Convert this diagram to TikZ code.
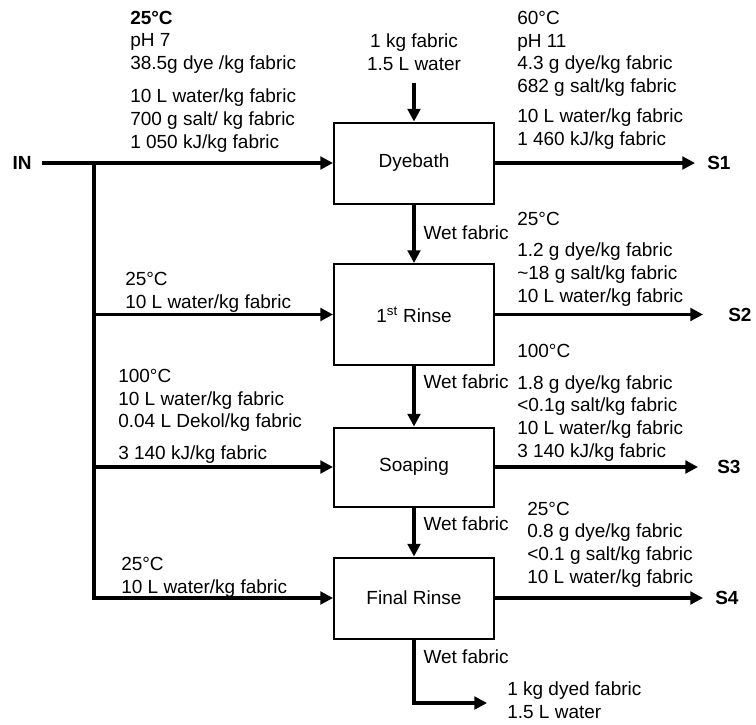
\documentclass[tikz,border=0pt]{standalone}
\usepackage{fontspec}
\setmainfont{Liberation Sans}
\usetikzlibrary{positioning, arrows.meta}

\begin{document}
\begin{tikzpicture}[
  x=0.75pt, y=-0.75pt,
  font=\fontsize{14.25}{16.9}\selectfont,
  unit/.style={draw, line width=1.5pt, minimum width=120pt,
               minimum height=60.75pt, align=center},
  flow/.style={-{Triangle[length=9.5pt,width=9.5pt]}, line width=2.3pt},
  tag/.style={font=\fontsize{14.25}{16.9}\selectfont\bfseries, inner sep=0pt},
  info/.style={align=left, anchor=base west, inner sep=0pt},
  wet/.style={anchor=base west, inner sep=0pt, xshift=6pt},
]
  \useasboundingbox (0,0) rectangle (756,724);

  % process units
  \node[unit] (dye) at (414,163) {Dyebath};
  \node[unit, minimum height=75.75pt] (rin) at (414,314.5) {1\textsuperscript{st} Rinse};
  \node[unit, minimum height=59.25pt] (soap) at (414,467) {Soaping};
  \node[unit] (fin) at (414,598) {Final Rinse};

  % feed and water supply
  \node[tag, inner xsep=8pt] (in) at (22,163) {IN};
  \coordinate (split) at (94,163);
  \coordinate (feed) at (414,83);
  \coordinate (prod) at (487,703);
  \node[align=center, anchor=base, inner sep=0pt] (fabric) at (414,70) {1 kg fabric\\1.5 L water};

  \draw[flow] (in) -- (dye);
  \draw[flow] (split) |- (fin);
  \draw[flow] (split |- rin) -- (rin);
  \draw[flow] (split |- soap) -- (soap);
  \draw[flow] (feed) -- (dye);

  % wet fabric between units
  \draw[flow] (dye) -- node[wet, pos=0.59] (w1) {Wet fabric} (rin);
  \draw[flow] (rin) -- node[wet, pos=0.37] (w2) {Wet fabric} (soap);
  \draw[flow] (soap) -- node[wet, pos=0.46] (w3) {Wet fabric} (fin);
  \draw[flow] (fin) |- node[wet, pos=0.19] (w4) {Wet fabric} (prod);
  \node[info] (dyed) at (507,718) {1 kg dyed fabric\\1.5 L water};

  % streams out
  \coordinate (t1) at (695,163);
  \coordinate (t2) at (703,314.5);
  \coordinate (t3) at (698,467);
  \coordinate (t4) at (703,598);
  \node[tag, right=9pt of t1] (s1) {S1};
  \node[tag, right=18.75pt of t2] (s2) {S2};
  \node[tag, right=14.25pt of t3] (s3) {S3};
  \node[tag, right=9pt of t4] (s4) {S4};
  \draw[flow] (dye) -- (t1);
  \draw[flow] (rin) -- (t2);
  \draw[flow] (soap) -- (t3);
  \draw[flow] (fin) -- (t4);

  % stream data
  \node[info] (dyeinfo) at (130,148) {\textbf{25°C}\\pH 7\\38.5g dye /kg fabric\\[8.4pt]
    10 L water/kg fabric\\700 g salt/ kg fabric\\1 050 kJ/kg fabric};
  \node[info] (s1info) at (517,145) {60°C\\pH 11\\4.3 g dye/kg fabric\\682 g salt/kg fabric\\[5.6pt]
    10 L water/kg fabric\\1 460 kJ/kg fabric};
  \node[info] (rininfo) at (125,308) {25°C\\10 L water/kg fabric};
  \node[info] (s2info) at (517,302) {25°C\\[7pt]1.2 g dye/kg fabric\\\textasciitilde18 g salt/kg fabric\\
    10 L water/kg fabric};
  \node[info] (soapinfo) at (118,459) {100°C\\10 L water/kg fabric\\0.04 L Dekol/kg fabric\\[6.4pt]
    3 140 kJ/kg fabric};
  \node[info] (s3info) at (517,457) {100°C\\[7pt]1.8 g dye/kg fabric\\<0.1g salt/kg fabric\\
    10 L water/kg fabric\\3 140 kJ/kg fabric};
  \node[info] (fininfo) at (121,593) {25°C\\10 L water/kg fabric};
  \node[info] (s4info) at (527,583) {25°C\\0.8 g dye/kg fabric\\<0.1 g salt/kg fabric\\
    10 L water/kg fabric};
\end{tikzpicture}
\end{document}
